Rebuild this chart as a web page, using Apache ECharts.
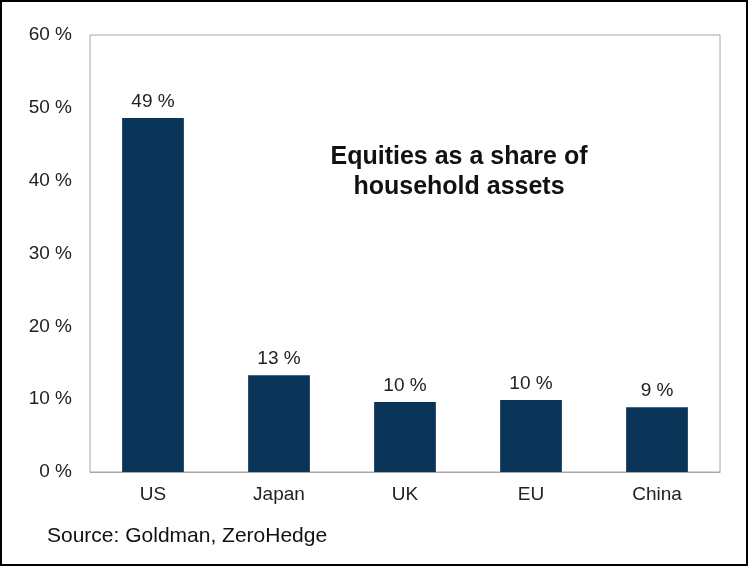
<!DOCTYPE html>
<html><head><meta charset="utf-8">
<script src="https://cdn.jsdelivr.net/npm/echarts@6/dist/echarts.min.js"></script>
<style>html,body{margin:0;padding:0;background:#fff}#c{width:750px;height:575px}</style>
</head><body><div id="c"></div>
<script>
const categories = ['US', 'Japan', 'UK', 'EU', 'China'];
const values = [48.6, 13.3, 9.6, 9.9, 8.9];
const yTicks = [0, 10, 20, 30, 40, 50, 60];
const titleLines = ['Equities as a share of', 'household assets'];
const sourceText = 'Source: Goldman, ZeroHedge';

const FONT = 'Liberation Sans, Arial, sans-serif';
const chart = echarts.init(document.getElementById('c'), null, {renderer: 'canvas'});
chart.setOption({
  animation: false,
  backgroundColor: '#fff',
  textStyle: {fontFamily: FONT},
  grid: {left: 90, right: 30, top: 35, bottom: 103, show: true, borderColor: '#a6a6a6', borderWidth: 1},
  xAxis: {
    type: 'category', data: categories,
    axisLine: {lineStyle: {color: '#a6a6a6'}},
    axisTick: {show: false},
    axisLabel: {color: '#222', fontSize: 19, margin: 13, fontFamily: FONT}
  },
  yAxis: {
    type: 'value', min: yTicks[0], max: yTicks[yTicks.length-1], interval: 10,
    splitLine: {show: false},
    axisLine: {show: false}, axisTick: {show: false},
    axisLabel: {color: '#222', fontSize: 19, margin: 18, formatter: v => v + ' %', fontFamily: FONT}
  },
  series: [{
    type: 'bar', data: values, barWidth: '49%',
    itemStyle: {color: '#0b3459'},
    label: {show: true, position: 'top', distance: 7, color: '#222', fontSize: 19,
      fontFamily: FONT,
      formatter: p => Math.round(p.value) + ' %'}
  }],
  graphic: [
    {type: 'rect', shape: {x: 1, y: 1, width: 746, height: 564}, style: {fill: 'none', stroke: '#000', lineWidth: 2}, silent: true},
    {type: 'text', position: [459, 142], style: {text: titleLines.join('\n'), textAlign: 'center', fill: '#111', font: 'bold 25px ' + FONT, lineHeight: 30}},
    {type: 'text', position: [47, 526], style: {text: sourceText, fill: '#111', font: '21px ' + FONT}}
  ]
});
</script></body></html>
